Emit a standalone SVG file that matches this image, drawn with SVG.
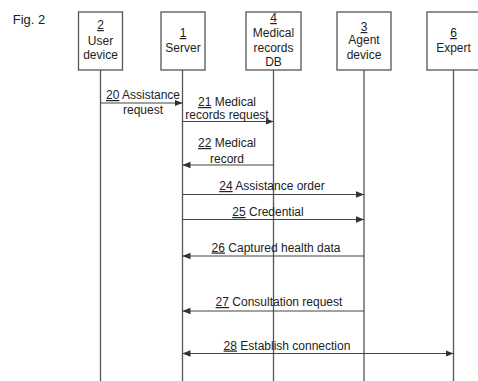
<svg xmlns="http://www.w3.org/2000/svg" width="478" height="381" viewBox="0 0 478 381">
<style>
text{font-family:"Liberation Sans",Arial,sans-serif;font-size:12px;fill:#222;text-anchor:middle}
.u{text-decoration:underline}
.box{fill:#fff;stroke:#555;stroke-width:1.3}
.life{stroke:#555;stroke-width:1.3}
.msg{stroke:#444;stroke-width:1.2;fill:none}
</style>
<defs>
<marker id="ah" viewBox="0 0 10 10" refX="10" refY="5" markerWidth="8" markerHeight="8" markerUnits="userSpaceOnUse" orient="auto-start-reverse">
<path d="M0,1 L10,5 L0,9 Z" fill="#333"/>
</marker>
</defs>
<rect width="478" height="381" fill="#fff"/>
<text x="29" y="24" style="font-size:13px">Fig. 2</text>
<g id="user">
<line class="life" x1="100.5" y1="70" x2="100.5" y2="381"/>
<rect class="box" x="78.5" y="12" width="44" height="58"/>
<text x="100.5" y="29"><tspan class="u">2</tspan></text>
<text x="100.5" y="45">User</text>
<text x="100.5" y="59">device</text>
</g>
<g id="server">
<line class="life" x1="182.5" y1="70" x2="182.5" y2="381"/>
<rect class="box" x="161" y="12" width="44" height="58"/>
<text x="183" y="37"><tspan class="u">1</tspan></text>
<text x="183" y="52">Server</text>
</g>
<g id="db">
<line class="life" x1="273.5" y1="70" x2="273.5" y2="381"/>
<rect class="box" x="246" y="12" width="55" height="58"/>
<text x="273.5" y="22"><tspan class="u">4</tspan></text>
<text x="273.5" y="37">Medical</text>
<text x="273.5" y="52">records</text>
<text x="273.5" y="66">DB</text>
</g>
<g id="agent">
<line class="life" x1="364" y1="70" x2="364" y2="381"/>
<rect class="box" x="337" y="12" width="54" height="58"/>
<text x="364" y="31"><tspan class="u">3</tspan></text>
<text x="364" y="44">Agent</text>
<text x="364" y="59">device</text>
</g>
<g id="expert">
<line class="life" x1="453.5" y1="70" x2="453.5" y2="381"/>
<rect class="box" x="427" y="12" width="52" height="58"/>
<text x="453.5" y="37"><tspan class="u">6</tspan></text>
<text x="453.5" y="52">Expert</text>
</g>
<g id="connectors">
<line class="msg" x1="100.5" y1="103" x2="182.5" y2="103" marker-end="url(#ah)"/>
<text x="143" y="99"><tspan class="u">20</tspan> Assistance</text>
<text x="143" y="114">request</text>
<line class="msg" x1="182.5" y1="121.5" x2="273.5" y2="121.5" marker-end="url(#ah)"/>
<text x="227" y="106"><tspan class="u">21</tspan> Medical</text>
<text x="227" y="119">records request</text>
<line class="msg" x1="273.5" y1="165" x2="182.5" y2="165" marker-end="url(#ah)"/>
<text x="227" y="147"><tspan class="u">22</tspan> Medical</text>
<text x="227" y="163">record</text>
<line class="msg" x1="182.5" y1="194.5" x2="364" y2="194.5" marker-end="url(#ah)"/>
<text x="272" y="190"><tspan class="u">24</tspan> Assistance order</text>
<line class="msg" x1="182.5" y1="219.5" x2="364" y2="219.5" marker-end="url(#ah)"/>
<text x="268" y="216"><tspan class="u">25</tspan> Credential</text>
<line class="msg" x1="364" y1="256" x2="182.5" y2="256" marker-end="url(#ah)"/>
<text x="276" y="251.5"><tspan class="u">26</tspan> Captured health data</text>
<line class="msg" x1="364" y1="311" x2="182.5" y2="311" marker-end="url(#ah)"/>
<text x="279" y="306"><tspan class="u">27</tspan> Consultation request</text>
<line class="msg" x1="182.5" y1="353.5" x2="453.5" y2="353.5" marker-start="url(#ah)" marker-end="url(#ah)"/>
<text x="287" y="349.5"><tspan class="u">28</tspan> Establish connection</text>
</g>
</svg>
